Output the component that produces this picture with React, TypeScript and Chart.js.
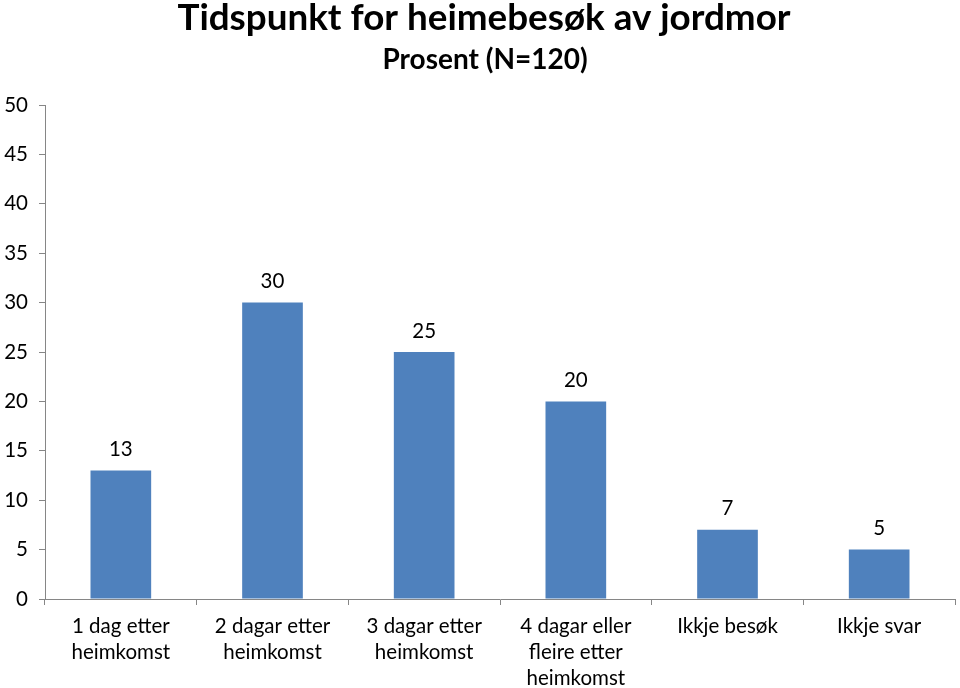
import React, { useEffect, useRef } from "react";
import { Chart, registerables } from "chart.js";

Chart.register(...registerables);

const categories: (string | string[])[] = [
  ["1 dag etter", "heimkomst"],
  ["2 dagar etter", "heimkomst"],
  ["3 dagar etter", "heimkomst"],
  ["4 dagar eller", "fleire etter", "heimkomst"],
  "Ikkje besøk",
  "Ikkje svar",
];
const values: number[] = [13, 30, 25, 20, 7, 5];
const titleText = "Tidspunkt for heimebesøk av jordmor";
const subtitleText = "Prosent (N=120)";
const yMin = 0;
const yMax = 50;
const yStep = 5;

const FONT = "Lato, 'Open Sans', sans-serif";

const valueLabels = {
  id: "valueLabels",
  afterDatasetsDraw(chart: any) {
    const ctx = chart.ctx;
    const meta = chart.getDatasetMeta(0);
    ctx.save();
    ctx.font = `20.5px ${FONT}`;
    ctx.fillStyle = "#000";
    ctx.textAlign = "center";
    ctx.textBaseline = "middle";
    meta.data.forEach((el: any, i: number) => {
      ctx.fillText(String(values[i]), el.x, el.y - 21);
    });
    ctx.restore();
  },
};

const titles = {
  id: "titles",
  afterDraw(chart: any) {
    const ctx = chart.ctx;
    ctx.save();
    ctx.fillStyle = "#000";
    ctx.textAlign = "center";
    ctx.textBaseline = "middle";
    ctx.font = `bold 36.8px ${FONT}`;
    ctx.fillText(titleText, 484, 18);
    ctx.font = `bold 28px ${FONT}`;
    ctx.fillText(subtitleText, 485, 60);
    ctx.restore();
  },
};

export default function App() {
  const ref = useRef<HTMLCanvasElement>(null);
  useEffect(() => {
    document.body.style.margin = "0";
    const chart = new Chart(ref.current!, {
      type: "bar",
      data: {
        labels: categories,
        datasets: [
          {
            data: values,
            backgroundColor: "#4F81BD",
            barPercentage: 0.4,
            categoryPercentage: 1,
          },
        ],
      },
      plugins: [valueLabels, titles],
      options: {
        animation: false,
        responsive: false,
        devicePixelRatio: 1,
        layout: { padding: { left: 0, right: 5, top: 105, bottom: 0 } },
        plugins: {
          legend: { display: false },
          tooltip: { enabled: false },
          title: { display: false },
          subtitle: { display: false },
        },
        scales: {
          x: {
            grid: {
              offset: true,
              drawOnChartArea: false,
              drawTicks: true,
              tickLength: 6,
              color: "#868686",
            },
            border: { display: true, color: "#868686", width: 1 },
            ticks: {
              color: "#000",
              font: { family: FONT, size: 20.5, lineHeight: 1.27 },
              padding: 8,
              maxRotation: 0,
              autoSkip: false,
            },
            afterFit: (s: any) => {
              s.height = 89;
            },
          },
          y: {
            min: yMin,
            max: yMax,
            grid: {
              drawOnChartArea: false,
              drawTicks: true,
              tickLength: 6,
              color: "#868686",
            },
            border: { display: true, color: "#868686", width: 1 },
            ticks: {
              stepSize: yStep,
              color: "#000",
              font: { family: FONT, size: 20.5 },
              padding: 11,
            },
            afterFit: (s: any) => {
              s.width = 45;
            },
          },
        },
      },
    });
    return () => chart.destroy();
  }, []);
  return (
    <div style={{ width: 960, height: 688, background: "#fff" }}>
      <canvas ref={ref} width={960} height={688} />
    </div>
  );
}
